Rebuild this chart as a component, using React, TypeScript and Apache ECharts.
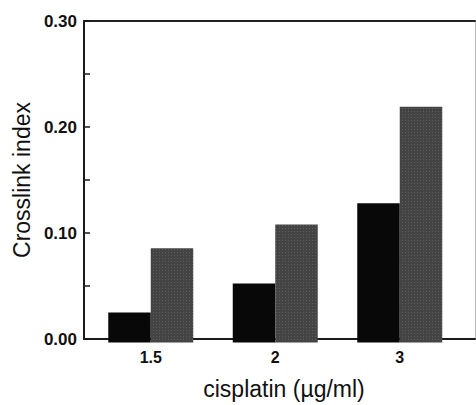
import React, { useEffect, useRef } from "react";
import * as echarts from "echarts";

const categories = ["1.5", "2", "3"];
const seriesBlack = [0.028, 0.055, 0.13];
const seriesGray = [0.088, 0.11, 0.22];
const yTicks = [0, 0.1, 0.2, 0.3];

export default function App() {
  const ref = useRef<HTMLDivElement>(null);
  useEffect(() => {
    if (!ref.current) return;
    const chart = echarts.init(ref.current, null, { renderer: "svg" });
    const font = "'Liberation Sans', Arial, Helvetica, sans-serif";
    const yMin = yTicks[0];
    const yMax = yTicks[yTicks.length - 1];
    const labelled = (v: number) => yTicks.some((t) => Math.abs(t - v) < 1e-6);
    chart.setOption({
      animation: false,
      backgroundColor: "#ffffff",
      grid: [
        { left: 84, width: 391, top: 21, height: 321.5 },
        { left: 88.5, width: 373.5, top: 21, height: 321.5 },
      ],
      xAxis: [
        {
          gridIndex: 0,
          type: "value",
          min: 0,
          max: 1,
          position: "bottom",
          axisLine: { show: true, onZero: false, lineStyle: { color: "#1a1a1a", width: 2 } },
          axisTick: { show: false },
          axisLabel: { show: false },
          splitLine: { show: false },
          name: "cisplatin (µg/ml)",
          nameLocation: "middle",
          nameGap: 38,
          nameTextStyle: {
            fontFamily: font,
            fontSize: 23,
            color: "#111",
            padding: [0, 0, 0, 9],
          },
        },
        {
          gridIndex: 0,
          type: "value",
          min: 0,
          max: 1,
          position: "top",
          axisLine: { show: true, onZero: false, lineStyle: { color: "#222", width: 2 } },
          axisTick: { show: false },
          axisLabel: { show: false },
          splitLine: { show: false },
        },
        {
          gridIndex: 1,
          type: "category",
          data: categories,
          axisLine: { show: false, onZero: false },
          axisTick: { show: false },
          axisLabel: {
            fontFamily: font,
            fontSize: 16,
            fontWeight: "bold",
            color: "#111",
            margin: 7,
          },
          splitLine: { show: false },
        },
      ],
      yAxis: [
        {
          gridIndex: 0,
          type: "value",
          min: yMin,
          max: yMax,
          interval: 0.05,
          position: "left",
          axisLine: { show: true, onZero: false, lineStyle: { color: "#1a1a1a", width: 2 } },
          axisTick: { show: true, inside: true, length: 6, lineStyle: { color: "#1a1a1a", width: 1.5 } },
          axisLabel: {
            fontFamily: font,
            fontSize: 17,
            fontWeight: "bold",
            color: "#111",
            margin: 7,
            formatter: (v: number) => (labelled(v) ? v.toFixed(2) : ""),
          },
          splitLine: { show: false },
          name: "Crosslink index",
          nameLocation: "middle",
          nameGap: 48,
          nameTextStyle: { fontFamily: font, fontSize: 23, color: "#111" },
        },
        {
          gridIndex: 0,
          type: "value",
          min: yMin,
          max: yMax,
          position: "right",
          axisLine: { show: true, onZero: false, lineStyle: { color: "#bbbbbb", width: 1 } },
          axisTick: { show: false },
          axisLabel: { show: false },
          splitLine: { show: false },
        },
        {
          gridIndex: 1,
          type: "value",
          min: yMin,
          max: yMax,
          show: false,
          splitLine: { show: false },
        },
      ],
      series: [
        {
          type: "bar",
          xAxisIndex: 2,
          yAxisIndex: 2,
          data: seriesBlack,
          barWidth: 42.5,
          barGap: "0%",
          itemStyle: { color: "#080808" },
        },
        {
          type: "bar",
          xAxisIndex: 2,
          yAxisIndex: 2,
          data: seriesGray,
          barWidth: 42.5,
          barGap: "0%",
          itemStyle: {
            color: "#444444",
            decal: {
              symbol: "rect",
              symbolSize: 1,
              color: "rgba(200,200,200,0.18)",
              dashArrayX: [1, 2],
              dashArrayY: [1, 2],
              rotation: 0,
            },
          },
        },
      ],
    });
    return () => chart.dispose();
  }, []);
  return (
    <div
      ref={ref}
      style={{ position: "fixed", left: 0, top: 0, width: 476, height: 405, background: "#fff" }}
    />
  );
}
